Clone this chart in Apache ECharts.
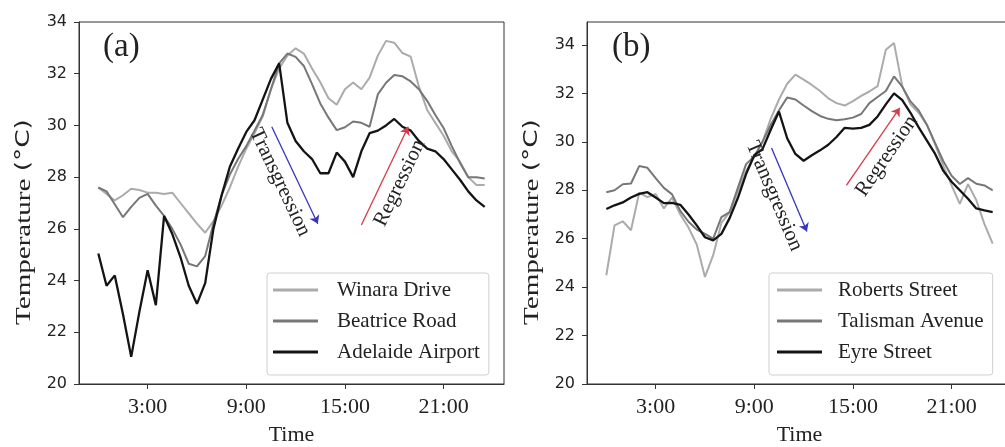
<!DOCTYPE html>
<html><head><meta charset="utf-8">
<script src="https://cdn.jsdelivr.net/npm/echarts@6/dist/echarts.min.js"></script>
<style>html,body{margin:0;padding:0;background:#fff}#c{width:1005px;height:447px}</style>
</head><body><div id="c"></div>
<script>
// ---- data ----
const hours = [0,0.5,1,1.5,2,2.5,3,3.5,4,4.5,5,5.5,6,6.5,7,7.5,8,8.5,9,9.5,10,10.5,11,11.5,
               12,12.5,13,13.5,14,14.5,15,15.5,16,16.5,17,17.5,18,18.5,19,19.5,20,20.5,21,21.5,22,22.5,23,23.5];
const xTickValues = [3, 9, 15, 21];
const xTickLabels = ['3:00', '9:00', '15:00', '21:00'];
const yTickValues = [20, 22, 24, 26, 28, 30, 32, 34];

// panel (a)
const winaraDrive = [27.6,27.35,27.1,27.3,27.55,27.5,27.4,27.4,27.35,27.4,27.0,26.6,26.2,25.85,26.3,26.9,
  27.6,28.4,29.1,29.7,30.35,31.4,32.2,32.7,32.98,32.78,32.2,31.67,31.05,30.8,31.4,31.66,
  31.4,31.85,32.7,33.27,33.2,32.8,32.66,31.5,30.6,30.1,29.6,29.0,28.6,28.0,27.7,27.7];
const beatriceRoad = [27.6,27.45,26.95,26.45,26.85,27.2,27.35,26.9,26.5,26.0,25.4,24.65,24.55,24.95,26.2,27.3,
  28.1,28.7,29.2,29.8,30.4,31.4,32.4,32.78,32.65,32.3,31.6,30.85,30.3,29.82,29.93,30.15,
  30.1,29.95,31.2,31.65,31.95,31.9,31.7,31.4,30.95,30.4,29.9,29.2,28.55,28.0,28.0,27.95];
const adelaideAirport = [25.05,23.8,24.2,22.7,21.05,22.8,24.4,23.05,26.5,25.8,24.9,23.8,23.1,23.9,26.0,27.3,
  28.4,29.1,29.75,30.2,31.0,31.8,32.4,30.1,29.4,29.0,28.7,28.15,28.15,28.95,28.6,28.0,
  29.0,29.7,29.8,30.0,30.25,29.95,29.8,29.4,29.1,29.0,28.7,28.3,27.9,27.45,27.1,26.85];

// panel (b)
const robertsStreet = [24.49,26.55,26.72,26.35,27.9,27.72,27.85,27.25,27.7,27.0,26.46,25.76,24.42,25.32,26.65,27.1,
  27.95,28.8,29.4,30.0,30.95,31.75,32.4,32.78,32.57,32.35,32.1,31.8,31.6,31.5,31.68,31.9,
  32.08,32.3,33.8,34.08,32.3,31.55,31.2,30.7,29.9,29.0,28.2,27.44,28.25,27.6,26.6,25.8];
const talismanAvenue = [27.92,28.0,28.25,28.28,29.0,28.93,28.5,28.1,27.83,27.15,26.7,26.38,26.2,26.0,26.89,27.1,
  28.1,29.08,29.4,30.0,30.7,31.3,31.83,31.75,31.5,31.27,31.07,30.95,30.89,30.93,31.0,31.15,
  31.6,31.85,32.1,32.7,32.28,31.67,31.3,30.7,29.95,29.2,28.6,28.26,28.5,28.27,28.2,28.0];
const eyreStreet = [27.23,27.38,27.5,27.7,27.85,27.92,27.7,27.47,27.48,27.4,27.0,26.55,26.06,25.93,26.2,26.85,
  27.68,28.67,29.45,29.7,30.5,31.25,30.15,29.5,29.22,29.45,29.65,29.88,30.2,30.58,30.55,30.58,
  30.7,31.05,31.55,32.0,31.72,31.2,30.6,30.05,29.5,28.8,28.35,28.0,27.65,27.25,27.17,27.1];

// annotation arrows, in data units [hour, temperature]
const transgressionA = [[10.55, 29.95], [13.35, 26.2]];
const regressionA = [[16.0, 26.15], [18.85, 29.95]];
const transgressionB = [[10.05, 29.75], [12.2, 26.3]];
const regressionB = [[14.6, 28.2], [17.85, 31.4]];

const namesA = ['Winara Drive', 'Beatrice Road', 'Adelaide Airport'];
const namesB = ['Roberts Street', 'Talisman Avenue', 'Eyre Street'];

// ---- styles ----
const SERIF = 'Liberation Serif';
const SANS = 'DejaVu Sans';
const colors = ['#ababab', '#777777', '#141414'];
const widths = [2, 2, 2.3];
const INK = '#222';

const chart = echarts.init(document.getElementById('c'), null, {renderer: 'canvas'});

function pairs(arr) { return hours.map((h, i) => [h, arr[i]]); }

function grid(left) {
  return {left: left, top: 22, width: 425, height: 362, show: true, containLabel: false,
          outerBoundsMode: 'none',
          borderColor: '#333', borderWidth: 1, backgroundColor: 'transparent'};
}
function xAxis(gi) {
  return {
    type: 'value', gridIndex: gi, min: -1.175, max: 24.675,
    name: 'Time', nameLocation: 'middle', nameGap: 40,
    nameTextStyle: {fontFamily: SERIF, fontSize: 22, color: INK},
    axisLine: {show: true, onZero: false, lineStyle: {color: '#333', width: 1}},
    axisTick: {show: true, length: 5, lineStyle: {color: '#333'}, customValues: xTickValues},
    axisLabel: {show: true, customValues: xTickValues, margin: 12,
      fontFamily: SERIF, fontSize: 22, color: INK,
      formatter: v => xTickLabels[xTickValues.indexOf(v)] || ''},
    splitLine: {show: false}
  };
}
function yAxis(gi, max) {
  return {
    type: 'value', gridIndex: gi, min: 20, max: max,
    axisLine: {show: true, onZero: false, lineStyle: {color: '#333', width: 1}},
    axisTick: {show: true, length: 5, lineStyle: {color: '#333'}, customValues: yTickValues},
    axisLabel: {show: true, customValues: yTickValues, margin: 12,
      fontFamily: SANS, fontSize: 16, color: INK},
    splitLine: {show: false}
  };
}
function lineSeries(name, arr, k, gi) {
  return {
    type: 'line', name: name, xAxisIndex: gi, yAxisIndex: gi, data: pairs(arr),
    showSymbol: false, symbol: 'none', smooth: false,
    lineStyle: {color: colors[k], width: widths[k]}, itemStyle: {color: colors[k]},
    emphasis: {disabled: true}, silent: true, z: 2 + k
  };
}
function arrowSeries(gi, trans, reg) {
  const lbl = (txt) => ({show: true, formatter: txt, position: 'insideMiddleBottom', distance: 6,
                         fontFamily: SERIF, fontSize: 21, color: INK});
  return {
    type: 'line', xAxisIndex: gi, yAxisIndex: gi, data: [], silent: true,
    markLine: {
      silent: true, animation: false, symbol: ['none', 'arrow'], symbolSize: 8,
      data: [
        [{coord: trans[0], lineStyle: {color: '#3535c0', width: 1.3, type: 'solid'}, label: lbl('Transgression')},
         {coord: trans[1]}],
        [{coord: reg[0], lineStyle: {color: '#d83a48', width: 1.3, type: 'solid'}, label: lbl('Regression')},
         {coord: reg[1]}]
      ]
    }
  };
}
function legend(names, left, padLeft, textPad) {
  return {
    data: names, orient: 'vertical', left: left, top: 273, selectedMode: false,
    icon: 'rect', itemWidth: 45, itemHeight: 3, itemGap: 7,
    padding: [5, 9, 11, padLeft],
    borderColor: '#cfcfcf', borderWidth: 1, borderRadius: 3, backgroundColor: '#fff',
    textStyle: {fontFamily: SERIF, fontSize: 21, color: INK, lineHeight: 24, padding: [0, 0, 0, textPad]}
  };
}
function ylabel(x) {
  return {
    type: 'text', x: x, y: 222, rotation: Math.PI / 2, scaleX: 1.32, silent: true, z: 10,
    style: {text: '{a|Temperature }{b|(°C)}', align: 'center', verticalAlign: 'middle', fill: INK,
      rich: {a: {fontFamily: SERIF, fontSize: 22, fill: INK}, b: {fontFamily: SANS, fontSize: 20, fill: INK}}}
  };
}
function tag(x, t) {
  return {type: 'text', x: x, y: 47, silent: true, z: 10,
    style: {text: t, fontFamily: SERIF, fontSize: 33, fill: INK, align: 'left', verticalAlign: 'middle'}};
}

const option = {
  animation: false,
  backgroundColor: '#fff',
  grid: [grid(79), grid(587)],
  xAxis: [xAxis(0), xAxis(1)],
  yAxis: [yAxis(0, 34), yAxis(1, 34.95)],
  legend: [legend(namesA, 267, 6, 14), legend(namesB, 769, 8, 11)],
  series: [
    lineSeries(namesA[0], winaraDrive, 0, 0),
    lineSeries(namesA[1], beatriceRoad, 1, 0),
    lineSeries(namesA[2], adelaideAirport, 2, 0),
    arrowSeries(0, transgressionA, regressionA),
    lineSeries(namesB[0], robertsStreet, 0, 1),
    lineSeries(namesB[1], talismanAvenue, 1, 1),
    lineSeries(namesB[2], eyreStreet, 2, 1),
    arrowSeries(1, transgressionB, regressionB)
  ],
  graphic: [ylabel(24), ylabel(532), tag(103, '(a)'), tag(612, '(b)')]
};
chart.setOption(option);
</script>
</body></html>
